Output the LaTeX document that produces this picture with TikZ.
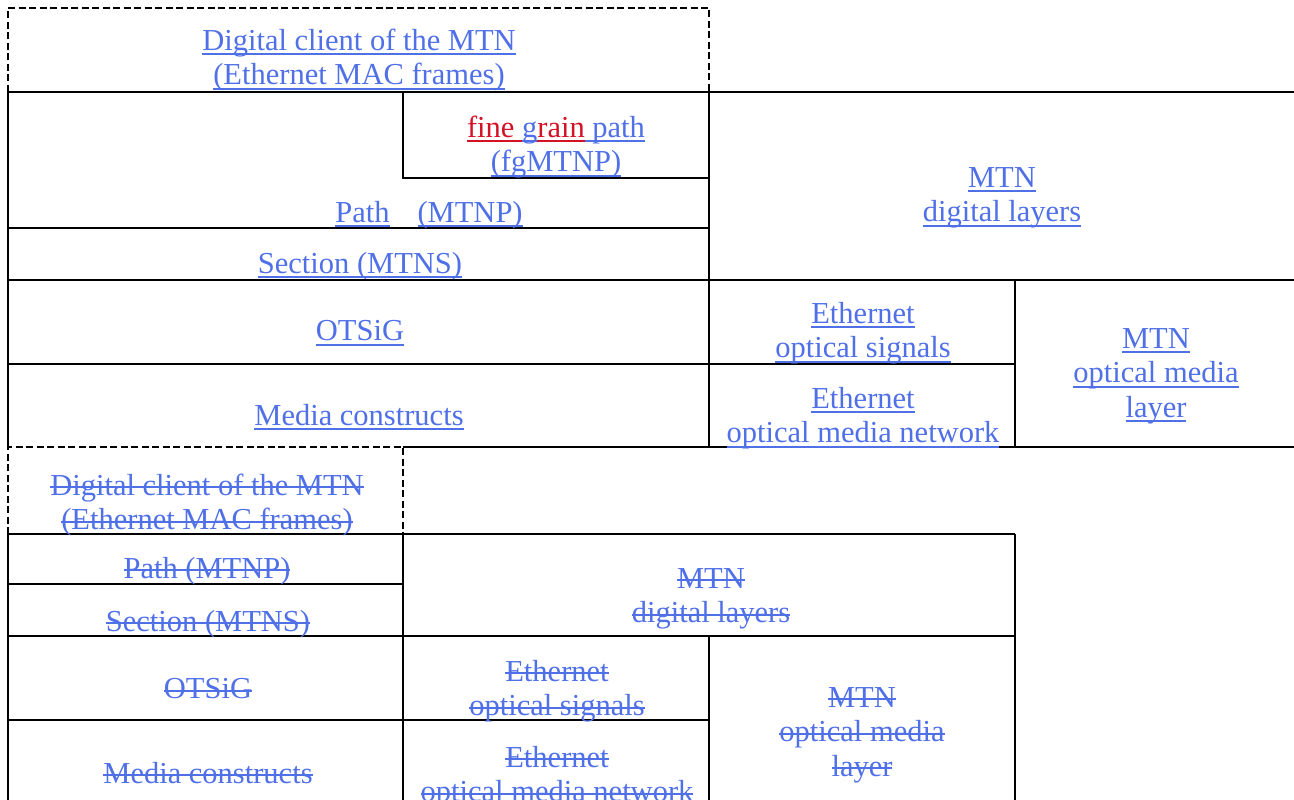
\documentclass[tikz,border=0pt]{standalone}
\usepackage{fontspec}
\setmainfont{Liberation Serif}
\usepackage{xcolor}
\usepackage{tikz}
\definecolor{mtnblue}{RGB}{80,112,232}
\definecolor{fgred}{RGB}{212,18,38}
\newsavebox\mtnbox
% underlined and struck-out text
\newcommand{\ulmtn}[1]{\sbox\mtnbox{#1}\rlap{\vrule height -3pt depth 5pt width \wd\mtnbox}\usebox\mtnbox}
\newcommand{\somtn}[1]{\sbox\mtnbox{#1}\rlap{\vrule height 9pt depth -7pt width \wd\mtnbox}\usebox\mtnbox}
\tikzset{
  grid/.style={line width=2.4pt},
  dashbox/.style={line width=2.4pt,dash pattern=on 7pt off 3.5pt},
  lbl/.style={align=center,text=mtnblue,inner sep=0pt,font=\fontsize{30.5}{34.5}\selectfont}
}

\begin{document}
\begin{tikzpicture}[x=1pt,y=-1pt]
  \useasboundingbox (0,0) rectangle (1294,800);
  % current layering
  \draw[dashbox] (8,92) -- (8,8) -- (709,8) -- (709,92);
  \draw[grid] (8,92) -- (1294,92);
  \draw[grid] (8,92) -- (8,447);
  \draw[grid] (709,92) -- (709,447);
  \draw[grid] (403,92) -- (403,178) -- (709,178);
  \draw[grid] (8,228) -- (709,228);
  \draw[grid] (8,280) -- (1294,280);
  \draw[grid] (8,364) -- (1015,364);
  \draw[grid] (1015,280) -- (1015,447);
  \draw[grid] (403,447) -- (1294,447);

  \node[lbl] (dc)    at (359,60)  {\ulmtn{Digital client of the MTN}\\\ulmtn{(Ethernet MAC frames)}};
  \node[lbl] (fg)    at (556,147) {{\color{fgred}\ulmtn{fine\ }}\ulmtn{g}{\color{fgred}\ulmtn{rain}}\ulmtn{\ path}\\\ulmtn{(fgMTNP)}};
  \node[lbl] (path)  at (429,215) {\ulmtn{Path}\hspace*{28pt}\ulmtn{(MTNP)}};
  \node[lbl] (sect)  at (360,266) {\ulmtn{Section (MTNS)}};
  \node[lbl] (otsig) at (360,333) {\ulmtn{OTSiG}};
  \node[lbl] (media) at (359,417) {\ulmtn{Media constructs}};
  \node[lbl] (dig)   at (1002,198) {\ulmtn{MTN}\\\ulmtn{digital layers}};
  \node[lbl] (eos)   at (863,333) {\ulmtn{Ethernet}\\\ulmtn{optical signals}};
  \node[lbl] (eomn)  at (863,418) {\ulmtn{Ethernet}\\\ulmtn{optical media network}};
  \node[lbl] (oml)   at (1156,376) {\ulmtn{MTN}\\\ulmtn{optical media}\\\ulmtn{layer}};

  % old layering (struck out)
  \draw[dashbox] (8,534) -- (8,447) -- (403,447) -- (403,534);
  \draw[grid] (8,534) -- (1015,534);
  \draw[grid] (8,534) -- (8,800);
  \draw[grid] (8,584) -- (403,584);
  \draw[grid] (8,636) -- (1015,636);
  \draw[grid] (403,534) -- (403,800);
  \draw[grid] (1015,534) -- (1015,800);
  \draw[grid] (8,720) -- (709,720);
  \draw[grid] (709,636) -- (709,800);

  \node[lbl] (dc-old)    at (207,505) {\somtn{Digital client of the MTN}\\\somtn{(Ethernet MAC frames)}};
  \node[lbl] (path-old)  at (207,571) {\somtn{Path (MTNP)}};
  \node[lbl] (sect-old)  at (208,624) {\somtn{Section (MTNS)}};
  \node[lbl] (otsig-old) at (208,689) {\somtn{OTSiG}};
  \node[lbl] (media-old) at (208,773) {\somtn{Media constructs}};
  \node[lbl] (dig-old)   at (711,599) {\somtn{MTN}\\\somtn{digital layers}};
  \node[lbl] (eos-old)   at (557,691) {\somtn{Ethernet}\\\somtn{optical signals}};
  \node[lbl] (eomn-old)  at (557,777) {\somtn{Ethernet}\\\somtn{optical media network}};
  \node[lbl] (oml-old)   at (862,735) {\somtn{MTN}\\\somtn{optical media}\\\somtn{layer}};
\end{tikzpicture}
\end{document}
